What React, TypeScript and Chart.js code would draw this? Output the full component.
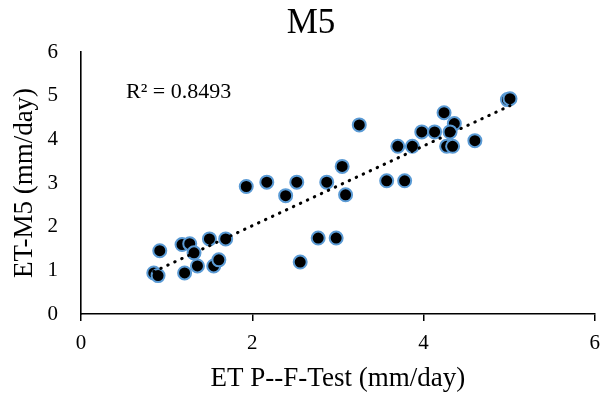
import React, { useEffect, useRef } from "react";
import { Chart, registerables } from "chart.js";

Chart.register(...registerables);

const chartTitle = "M5";
const xAxisTitle = "ET P--F-Test (mm/day)";
const yAxisTitle = "ET-M5 (mm/day)";
const r2Label = "R² = 0.8493";

const xValues = [
  0.85, 0.9, 0.92, 1.18, 1.27, 1.32, 1.21, 1.36, 1.5, 1.55, 1.61, 1.69,
  1.93, 2.17, 2.39, 2.52, 2.56, 2.77, 2.98, 2.87, 3.05, 3.09, 3.25, 3.57,
  3.78, 3.7, 3.87, 3.98, 4.13, 4.24, 4.36, 4.31, 4.27, 4.34, 4.6, 4.98, 5.01,
];
const yValues = [
  0.94, 0.88, 1.45, 1.59, 1.61, 1.4, 0.94, 1.1, 1.72, 1.1, 1.24, 1.72,
  2.92, 3.02, 2.71, 3.02, 1.19, 1.74, 1.74, 3.02, 3.38, 2.73, 4.33, 3.05,
  3.05, 3.84, 3.84, 4.17, 4.17, 4.61, 4.36, 4.17, 3.84, 3.84, 3.97, 4.91, 4.93,
];

const xTicks = [0, 2, 4, 6];
const yTicks = [0, 1, 2, 3, 4, 5, 6];

const SERIF = "'Liberation Serif', 'Times New Roman', serif";

function regression(xs: number[], ys: number[]) {
  const n = xs.length;
  const mx = xs.reduce((a, b) => a + b, 0) / n;
  const my = ys.reduce((a, b) => a + b, 0) / n;
  let sxy = 0;
  let sxx = 0;
  for (let i = 0; i < n; i++) {
    sxy += (xs[i] - mx) * (ys[i] - my);
    sxx += (xs[i] - mx) * (xs[i] - mx);
  }
  const slope = sxy / sxx;
  return { slope, intercept: my - slope * mx };
}

const textPlugin = {
  id: "textPlugin",
  afterDraw(chart: any) {
    const ctx = chart.ctx;
    ctx.save();
    ctx.fillStyle = "#000";
    ctx.textBaseline = "alphabetic";
    ctx.textAlign = "center";
    ctx.font = `35px ${SERIF}`;
    ctx.fillText(chartTitle, 311, 33);
    ctx.textAlign = "left";
    ctx.font = `22px ${SERIF}`;
    ctx.fillText(r2Label, 126, 98);
    ctx.restore();
  },
};

export default function App() {
  const ref = useRef<HTMLCanvasElement | null>(null);
  useEffect(() => {
    if (!ref.current) return;
    const points = xValues.map((x, i) => ({ x, y: yValues[i] }));
    const { slope, intercept } = regression(xValues, yValues);
    const xmin = Math.min(...xValues);
    const xmax = Math.max(...xValues);
    const trend = [
      { x: xmin, y: intercept + slope * xmin },
      { x: xmax, y: intercept + slope * xmax },
    ];
    const chart = new Chart(ref.current, {
      type: "scatter",
      data: {
        datasets: [
          {
            label: "trend",
            data: trend,
            showLine: true,
            borderColor: "#000",
            borderWidth: 3,
            borderDash: [0.5, 7.2],
            borderCapStyle: "round",
            pointRadius: 0,
            fill: false,
          },
          {
            label: "M5",
            data: points,
            backgroundColor: "#000",
            borderColor: "#5B9BD5",
            borderWidth: 2,
            pointRadius: 6.5,
          },
        ],
      },
      options: {
        responsive: false,
        animation: false,
        layout: { padding: { top: 52, right: 15, left: 0, bottom: 0 } },
        plugins: {
          legend: { display: false },
          tooltip: { enabled: false },
          title: { display: false },
        },
        scales: {
          x: {
            type: "linear",
            min: 0,
            max: 6,
            afterBuildTicks: (axis: any) => {
              axis.ticks = xTicks.map((v) => ({ value: v }));
            },
            afterFit: (axis: any) => {
              axis.height = 82;
            },
            ticks: {
              color: "#000",
              font: { family: SERIF, size: 21 },
              padding: 10,
              maxRotation: 0,
            },
            grid: {
              display: true,
              drawOnChartArea: false,
              drawTicks: true,
              tickLength: 7,
              color: "#000",
              lineWidth: 1.5,
            },
            border: { display: true, color: "#000", width: 1.6 },
            title: {
              display: true,
              text: xAxisTitle,
              color: "#000",
              font: { family: SERIF, size: 27 },
              padding: { top: 0, bottom: 1 },
            },
          },
          y: {
            type: "linear",
            min: 0,
            max: 6,
            afterBuildTicks: (axis: any) => {
              axis.ticks = yTicks.map((v) => ({ value: v }));
            },
            afterFit: (axis: any) => {
              axis.width = 81;
            },
            ticks: {
              color: "#000",
              font: { family: SERIF, size: 21 },
              padding: 23,
            },
            grid: { display: false, drawTicks: false },
            border: { display: true, color: "#000", width: 1.6 },
            title: {
              display: true,
              text: yAxisTitle,
              color: "#000",
              font: { family: SERIF, size: 27 },
              padding: { top: 9, bottom: 0 },
            },
          },
        },
      },
      plugins: [textPlugin],
    } as any);
    return () => chart.destroy();
  }, []);
  return (
    <div style={{ position: "fixed", left: 0, top: 0, width: 610, height: 396, background: "#fff" }}>
      <canvas ref={ref} width={610} height={396} style={{ display: "block" }} />
    </div>
  );
}
